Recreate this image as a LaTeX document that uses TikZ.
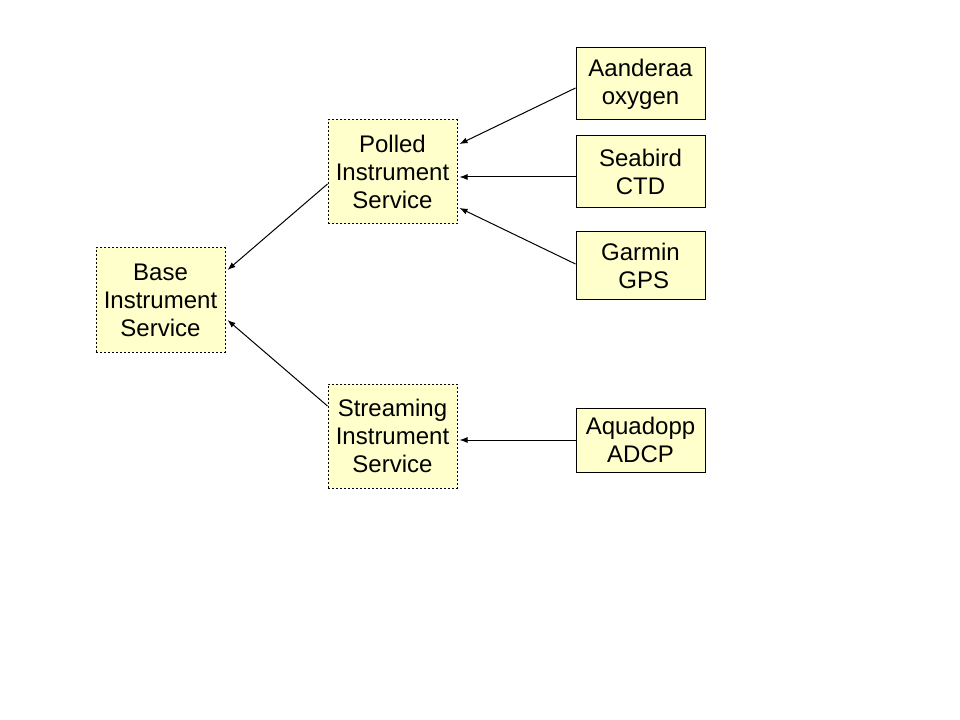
\documentclass[tikz,border=0pt]{standalone}
\usepackage{fontspec}
\setmainfont{Liberation Sans}
\usetikzlibrary{calc,arrows.meta}
\definecolor{boxfill}{HTML}{FFFFCC}
\begin{document}
\begin{tikzpicture}[x=0.75pt,y=-0.75pt,
  box/.style={draw=black,fill=boxfill,line width=0.75pt,inner sep=0pt,align=center,
    font=\fontsize{18pt}{21pt}\selectfont},
  dbox/.style={box,dash pattern=on 1.5pt off 1.5pt},
  conn/.style={line width=0.75pt,-{Latex[length=6pt,width=4.5pt]}}]
\useasboundingbox[fill=white] (0,0) rectangle (960,720);
\node[dbox,minimum width=129*0.75pt,minimum height=104*0.75pt] (base) at (160.5,300) {Base\\Instrument\\Service};
\node[dbox,minimum width=129*0.75pt,minimum height=104*0.75pt] (pol) at (392.5,172) {Polled\\Instrument\\Service};
\node[dbox,minimum width=129*0.75pt,minimum height=104*0.75pt] (str) at (392.5,436) {Streaming\\Instrument\\Service};
\node[box,minimum width=129*0.75pt,minimum height=72*0.75pt] (aan) at (640.5,84) {Aanderaa\\oxygen};
\node[box,minimum width=129*0.75pt,minimum height=72*0.75pt] (sea) at (640.5,172) {Seabird\\CTD};
\node[box,minimum width=129*0.75pt,minimum height=68*0.75pt] (gar) at (640.5,266) {Garmin\\\ GPS};
\node[box,minimum width=129*0.75pt,minimum height=64*0.75pt] (aqu) at (640.5,440) {Aquadopp\\ADCP};
\draw[conn] ($(aan.west)+(0,4)$) -- ($(pol.east)+(2,-28)$);
\draw[conn] ($(sea.west)+(0,5)$) -- ($(pol.east)+(2,5)$);
\draw[conn] ($(gar.west)+(0,-2)$) -- ($(pol.east)+(2,36)$);
\draw[conn] (aqu.west) -- ($(str.east)+(2,4)$);
\draw[conn] ($(pol.west)+(0,12)$) -- ($(base.east)+(2,-30)$);
\draw[conn] ($(str.west)+(0,-30)$) -- ($(base.east)+(2,20)$);
\end{tikzpicture}
\end{document}
